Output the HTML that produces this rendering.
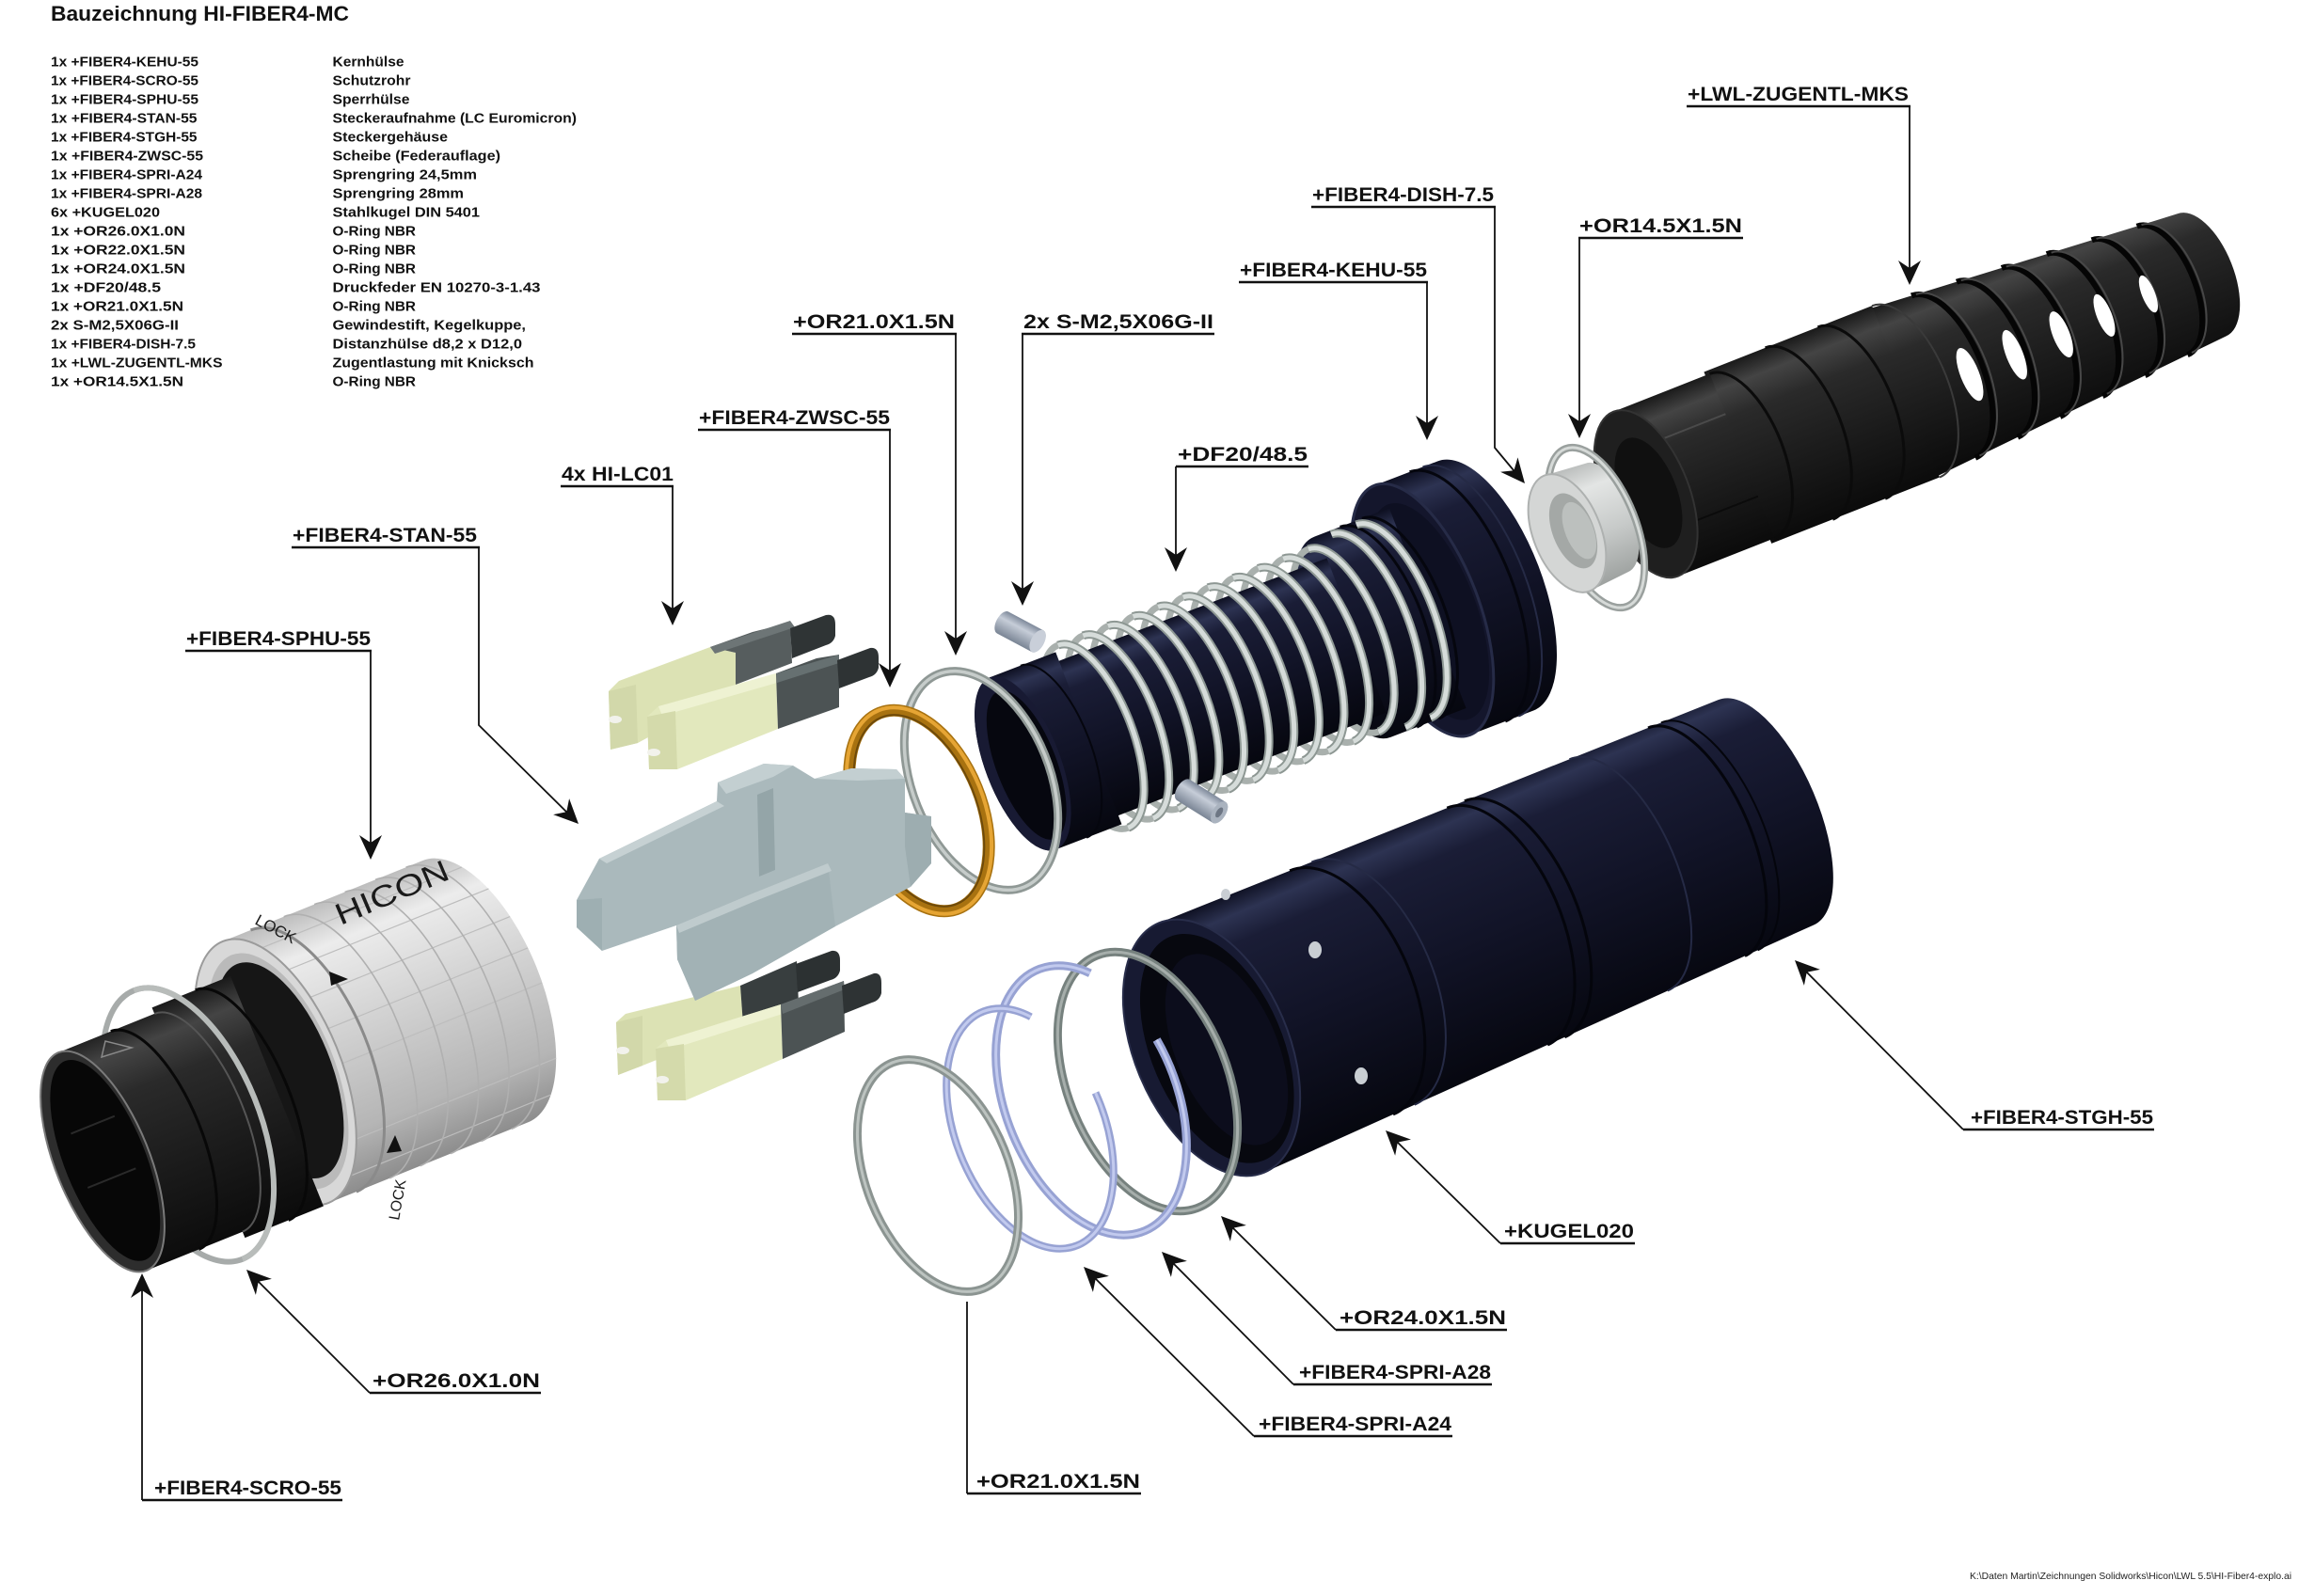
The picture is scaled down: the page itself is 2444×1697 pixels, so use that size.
<!DOCTYPE html>
<html lang="de">
<head>
<meta charset="utf-8">
<title>Bauzeichnung HI-FIBER4-MC</title>
<style>
html,body{margin:0;padding:0;background:#fff;width:2444px;height:1697px;overflow:hidden;}
svg{display:block;}
.lb{font-family:"Liberation Sans",sans-serif;font-weight:bold;font-size:21px;fill:#111;}
.pl{font-family:"Liberation Sans",sans-serif;font-weight:bold;font-size:14.5px;fill:#111;}
.ul{stroke:#111;stroke-width:2.6;fill:none;}
.ld{stroke:#111;stroke-width:1.8;fill:none;}
.ah{fill:#111;}
</style>
</head>
<body>
<svg xmlns="http://www.w3.org/2000/svg" width="2444" height="1697" viewBox="0 0 2444 1697">
<defs>
  <linearGradient id="gNavy" x1="0" y1="0" x2="0" y2="1">
    <stop offset="0" stop-color="#0e1022"/>
    <stop offset="0.08" stop-color="#2d3352"/>
    <stop offset="0.18" stop-color="#1a1d36"/>
    <stop offset="0.5" stop-color="#121428"/>
    <stop offset="1" stop-color="#06070f"/>
  </linearGradient>
  <linearGradient id="gBlack" x1="0" y1="0" x2="0" y2="1">
    <stop offset="0" stop-color="#1a1a1a"/>
    <stop offset="0.12" stop-color="#444444"/>
    <stop offset="0.28" stop-color="#2a2a2a"/>
    <stop offset="0.6" stop-color="#1c1c1c"/>
    <stop offset="1" stop-color="#0b0b0b"/>
  </linearGradient>
  <linearGradient id="gSilver" x1="0" y1="0" x2="0" y2="1">
    <stop offset="0" stop-color="#bdbdbd"/>
    <stop offset="0.15" stop-color="#ececec"/>
    <stop offset="0.45" stop-color="#d2d2d2"/>
    <stop offset="0.8" stop-color="#b5b5b5"/>
    <stop offset="1" stop-color="#8d8d8d"/>
  </linearGradient>
  <linearGradient id="gGray" x1="0" y1="0" x2="0" y2="1">
    <stop offset="0" stop-color="#b8bbba"/>
    <stop offset="0.22" stop-color="#e3e5e4"/>
    <stop offset="0.6" stop-color="#c7cac9"/>
    <stop offset="1" stop-color="#9da19f"/>
  </linearGradient>
  <linearGradient id="gPin" x1="0" y1="0" x2="0" y2="1">
    <stop offset="0" stop-color="#7e899a"/>
    <stop offset="0.35" stop-color="#c6cdd8"/>
    <stop offset="1" stop-color="#7a8595"/>
  </linearGradient>
</defs>
<rect x="0" y="0" width="2444" height="1697" fill="#ffffff"/>

<!-- ================= TITLE + PARTS LIST ================= -->
<text x="54" y="22" font-family="Liberation Sans, sans-serif" font-weight="bold" font-size="22" fill="#111" textLength="317" lengthAdjust="spacingAndGlyphs">Bauzeichnung HI-FIBER4-MC</text>

<g class="pl">
<text x="54" y="70.7" textLength="157" lengthAdjust="spacingAndGlyphs">1x +FIBER4-KEHU-55</text>
<text x="54" y="90.7" textLength="157" lengthAdjust="spacingAndGlyphs">1x +FIBER4-SCRO-55</text>
<text x="54" y="110.7" textLength="157" lengthAdjust="spacingAndGlyphs">1x +FIBER4-SPHU-55</text>
<text x="54" y="130.7" textLength="155.5" lengthAdjust="spacingAndGlyphs">1x +FIBER4-STAN-55</text>
<text x="54" y="150.7" textLength="155.5" lengthAdjust="spacingAndGlyphs">1x +FIBER4-STGH-55</text>
<text x="54" y="170.7" textLength="162" lengthAdjust="spacingAndGlyphs">1x +FIBER4-ZWSC-55</text>
<text x="54" y="190.7" textLength="161" lengthAdjust="spacingAndGlyphs">1x +FIBER4-SPRI-A24</text>
<text x="54" y="210.7" textLength="161" lengthAdjust="spacingAndGlyphs">1x +FIBER4-SPRI-A28</text>
<text x="54" y="230.7" textLength="116" lengthAdjust="spacingAndGlyphs">6x +KUGEL020</text>
<text x="54" y="250.7" textLength="143" lengthAdjust="spacingAndGlyphs">1x +OR26.0X1.0N</text>
<text x="54" y="270.7" textLength="143" lengthAdjust="spacingAndGlyphs">1x +OR22.0X1.5N</text>
<text x="54" y="290.7" textLength="143" lengthAdjust="spacingAndGlyphs">1x +OR24.0X1.5N</text>
<text x="54" y="310.7" textLength="117" lengthAdjust="spacingAndGlyphs">1x +DF20/48.5</text>
<text x="54" y="330.7" textLength="141" lengthAdjust="spacingAndGlyphs">1x +OR21.0X1.5N</text>
<text x="54" y="350.7" textLength="136" lengthAdjust="spacingAndGlyphs">2x S-M2,5X06G-II</text>
<text x="54" y="370.7" textLength="154" lengthAdjust="spacingAndGlyphs">1x +FIBER4-DISH-7.5</text>
<text x="54" y="390.7" textLength="182.5" lengthAdjust="spacingAndGlyphs">1x +LWL-ZUGENTL-MKS</text>
<text x="54" y="410.7" textLength="141" lengthAdjust="spacingAndGlyphs">1x +OR14.5X1.5N</text>

<text x="353.5" y="70.7" textLength="76" lengthAdjust="spacingAndGlyphs">Kernhülse</text>
<text x="353.5" y="90.7" textLength="83" lengthAdjust="spacingAndGlyphs">Schutzrohr</text>
<text x="353.5" y="110.7" textLength="82" lengthAdjust="spacingAndGlyphs">Sperrhülse</text>
<text x="353.5" y="130.7" textLength="259.5" lengthAdjust="spacingAndGlyphs">Steckeraufnahme (LC Euromicron)</text>
<text x="353.5" y="150.7" textLength="122.5" lengthAdjust="spacingAndGlyphs">Steckergehäuse</text>
<text x="353.5" y="170.7" textLength="178.5" lengthAdjust="spacingAndGlyphs">Scheibe (Federauflage)</text>
<text x="353.5" y="190.7" textLength="153.5" lengthAdjust="spacingAndGlyphs">Sprengring 24,5mm</text>
<text x="353.5" y="210.7" textLength="139.5" lengthAdjust="spacingAndGlyphs">Sprengring 28mm</text>
<text x="353.5" y="230.7" textLength="156.5" lengthAdjust="spacingAndGlyphs">Stahlkugel DIN 5401</text>
<text x="353.5" y="250.7" textLength="88.5" lengthAdjust="spacingAndGlyphs">O-Ring NBR</text>
<text x="353.5" y="270.7" textLength="88.5" lengthAdjust="spacingAndGlyphs">O-Ring NBR</text>
<text x="353.5" y="290.7" textLength="88.5" lengthAdjust="spacingAndGlyphs">O-Ring NBR</text>
<text x="353.5" y="310.7" textLength="221" lengthAdjust="spacingAndGlyphs">Druckfeder EN 10270-3-1.43</text>
<text x="353.5" y="330.7" textLength="88.5" lengthAdjust="spacingAndGlyphs">O-Ring NBR</text>
<text x="353.5" y="350.7" textLength="205.5" lengthAdjust="spacingAndGlyphs">Gewindestift, Kegelkuppe,</text>
<text x="353.5" y="370.7" textLength="201.5" lengthAdjust="spacingAndGlyphs">Distanzhülse d8,2 x D12,0</text>
<text x="353.5" y="390.7" textLength="214" lengthAdjust="spacingAndGlyphs">Zugentlastung mit Knicksch</text>
<text x="353.5" y="410.7" textLength="88.5" lengthAdjust="spacingAndGlyphs">O-Ring NBR</text>
</g>

<!-- ================= LWL STRAIN RELIEF ================= -->
<g transform="translate(1745,527) rotate(-21.5)">
  <path d="M300,-96 L640,-70 A34,70 0 0 1 640,70 L300,96 Z" fill="url(#gBlack)"/>
  <g fill="none">
    <path d="M345,-92.6 A43,92.6 0 0 1 345,92.6" stroke="#050505" stroke-width="6"/>
    <path d="M350,-92.2 A43,92.2 0 0 1 350,92.2" stroke="#474747" stroke-width="2"/>
    <path d="M395,-88.7 A41.5,88.7 0 0 1 395,88.7" stroke="#050505" stroke-width="6"/>
    <path d="M400,-88.4 A41.3,88.4 0 0 1 400,88.4" stroke="#474747" stroke-width="2"/>
    <path d="M445,-84.9 A40,84.9 0 0 1 445,84.9" stroke="#050505" stroke-width="6"/>
    <path d="M450,-84.5 A39.8,84.5 0 0 1 450,84.5" stroke="#474747" stroke-width="2"/>
    <path d="M495,-81.1 A38.5,81.1 0 0 1 495,81.1" stroke="#050505" stroke-width="6"/>
    <path d="M500,-80.7 A38.3,80.7 0 0 1 500,80.7" stroke="#474747" stroke-width="2"/>
    <path d="M545,-77.3 A37,77.3 0 0 1 545,77.3" stroke="#050505" stroke-width="6"/>
    <path d="M550,-76.9 A36.8,76.9 0 0 1 550,76.9" stroke="#474747" stroke-width="2"/>
    <path d="M595,-73.4 A35.5,73.4 0 0 1 595,73.4" stroke="#050505" stroke-width="6"/>
    <path d="M600,-73 A35.3,73 0 0 1 600,73" stroke="#474747" stroke-width="2"/>
  </g>
  <g fill="#ffffff">
    <ellipse cx="372" cy="8" rx="10" ry="30"/>
    <ellipse cx="424" cy="6" rx="9" ry="28"/>
    <ellipse cx="478" cy="4" rx="9" ry="26"/>
    <ellipse cx="528" cy="2" rx="8" ry="24"/>
    <ellipse cx="580" cy="-2" rx="7" ry="21"/>
  </g>
  <path d="M110,-98 L302,-98 L302,98 L110,98 Z" fill="url(#gBlack)"/>
  <path d="M180,-98 A46,98 0 0 1 180,98" stroke="#0b0b0b" stroke-width="3" fill="none"/>
  <path d="M240,-98 A46,98 0 0 1 240,98" stroke="#0b0b0b" stroke-width="3" fill="none"/>
  <path d="M302,-98 A46,98 0 0 1 302,98" stroke="#3a3a3a" stroke-width="2" fill="none"/>
  <path d="M5,-94 L115,-94 L115,94 L5,94 A46,94 0 0 1 5,-94 Z" fill="url(#gBlack)"/>
  <line x1="5" y1="-48" x2="115" y2="-48" stroke="#4a4a4a" stroke-width="2"/>
  <line x1="5" y1="46" x2="115" y2="46" stroke="#0b0b0b" stroke-width="2"/>
  <path d="M115,-94 A44,94 0 0 1 115,94" stroke="#0b0b0b" stroke-width="3" fill="none"/>
  <ellipse cx="5" cy="0" rx="46" ry="94" fill="#1f1f1f" stroke="#333" stroke-width="2"/>
  <ellipse cx="8" cy="0" rx="30" ry="62" fill="#101010"/>
</g>

<!-- ================= DISH + OR14.5 ================= -->
<g transform="translate(1666,567) rotate(-21.5)">
  <path d="M0,-66 L45,-62 A28,62 0 0 1 45,62 L0,66 Z" fill="url(#gGray)"/>
</g>
<g transform="translate(1697,561) rotate(-21.5)">
  <ellipse cx="0" cy="0" rx="42" ry="90" fill="none" stroke="#9aa09e" stroke-width="8"/>
  <ellipse cx="0" cy="0" rx="42" ry="90" fill="none" stroke="#d6dad8" stroke-width="3"/>
</g>
<g transform="translate(1666,567) rotate(-21.5)">
  <ellipse cx="0" cy="0" rx="36" ry="66" fill="#d4d6d5" stroke="#aeb1b0" stroke-width="2"/>
  <ellipse cx="7" cy="0" rx="22" ry="42" fill="#a4a8a6"/>
  <ellipse cx="13" cy="2" rx="15" ry="32" fill="#bcc0be"/>
</g>

<!-- ================= KEHU + SPRING ================= -->
<g transform="translate(1092,810) rotate(-21)">
  <path d="M450,-142 L522,-142 A60,142 0 0 1 522,142 L450,142 Z" fill="url(#gNavy)"/>
  <path d="M490,-142 A60,142 0 0 1 490,142" stroke="#05060e" stroke-width="3" fill="none"/>
  <path d="M505,-142 A60,142 0 0 1 505,142" stroke="#252a45" stroke-width="2" fill="none"/>
  <ellipse cx="450" cy="0" rx="60" ry="142" fill="#14162c" stroke="#262b47" stroke-width="3"/>
  <ellipse cx="456" cy="4" rx="50" ry="122" fill="#0e1022"/>
  <path d="M370,-114 L456,-114 L456,114 L370,114 A48,114 0 0 1 370,-114 Z" fill="url(#gNavy)"/>
  <path d="M400,-114 A48,114 0 0 1 400,114" stroke="#05060e" stroke-width="3" fill="none"/>
  <path d="M425,-114 A48,114 0 0 1 425,114" stroke="#05060e" stroke-width="3" fill="none"/>
  <g fill="none" stroke="#a9b0ad" stroke-width="7">
    <path d="M75,-104 A42,104 0 0 0 75,104"/>
    <path d="M103.5,-104 A42,104 0 0 0 103.5,104"/>
    <path d="M132,-104 A42,104 0 0 0 132,104"/>
    <path d="M160.5,-104 A42,104 0 0 0 160.5,104"/>
    <path d="M189,-104 A42,104 0 0 0 189,104"/>
    <path d="M217.5,-104 A42,104 0 0 0 217.5,104"/>
    <path d="M246,-104 A42,104 0 0 0 246,104"/>
    <path d="M274.5,-104 A42,104 0 0 0 274.5,104"/>
    <path d="M303,-104 A42,104 0 0 0 303,104"/>
    <path d="M331.5,-104 A42,104 0 0 0 331.5,104"/>
    <path d="M360,-104 A42,104 0 0 0 360,104"/>
  </g>
  <path d="M40,-88 L375,-88 L375,88 L40,88 Z" fill="url(#gNavy)"/>
  <g fill="none" stroke="#8d9793" stroke-width="9">
    <path d="M75,-104 A42,104 0 0 1 75,104"/>
    <path d="M103.5,-104 A42,104 0 0 1 103.5,104"/>
    <path d="M132,-104 A42,104 0 0 1 132,104"/>
    <path d="M160.5,-104 A42,104 0 0 1 160.5,104"/>
    <path d="M189,-104 A42,104 0 0 1 189,104"/>
    <path d="M217.5,-104 A42,104 0 0 1 217.5,104"/>
    <path d="M246,-104 A42,104 0 0 1 246,104"/>
    <path d="M274.5,-104 A42,104 0 0 1 274.5,104"/>
    <path d="M303,-104 A42,104 0 0 1 303,104"/>
    <path d="M331.5,-104 A42,104 0 0 1 331.5,104"/>
    <path d="M360,-104 A42,104 0 0 1 360,104"/>
    <path d="M388.5,-110 A44,110 0 0 1 388.5,110"/>
    <path d="M417,-110 A44,110 0 0 1 417,110"/>
  </g>
  <g fill="none" stroke="#d6dcda" stroke-width="5">
    <path d="M75,-104 A42,104 0 0 1 75,104"/>
    <path d="M103.5,-104 A42,104 0 0 1 103.5,104"/>
    <path d="M132,-104 A42,104 0 0 1 132,104"/>
    <path d="M160.5,-104 A42,104 0 0 1 160.5,104"/>
    <path d="M189,-104 A42,104 0 0 1 189,104"/>
    <path d="M217.5,-104 A42,104 0 0 1 217.5,104"/>
    <path d="M246,-104 A42,104 0 0 1 246,104"/>
    <path d="M274.5,-104 A42,104 0 0 1 274.5,104"/>
    <path d="M303,-104 A42,104 0 0 1 303,104"/>
    <path d="M331.5,-104 A42,104 0 0 1 331.5,104"/>
    <path d="M360,-104 A42,104 0 0 1 360,104"/>
    <path d="M388.5,-110 A44,110 0 0 1 388.5,110"/>
    <path d="M417,-110 A44,110 0 0 1 417,110"/>
  </g>
  <path d="M-5,-98 L70,-98 L70,98 L-5,98 A40,98 0 0 1 -5,-98 Z" fill="url(#gNavy)"/>
  <path d="M30,-98 A40,98 0 0 1 30,98" stroke="#05060e" stroke-width="2" fill="none"/>
  <ellipse cx="-5" cy="0" rx="40" ry="98" fill="#181a33"/>
  <ellipse cx="-2" cy="3" rx="32" ry="84" fill="#06070f"/>
</g>

<!-- pins -->
<g transform="translate(1066,662) rotate(28)">
  <path d="M0,-13 L42,-13 A7,13 0 0 1 42,13 L0,13 A7,13 0 0 1 0,-13 Z" fill="url(#gPin)"/>
  <ellipse cx="42" cy="0" rx="7" ry="13" fill="#c9cfd9"/>
</g>
<g transform="translate(1258,840) rotate(32)">
  <path d="M0,-13 L45,-13 A7,13 0 0 1 45,13 L0,13 A7,13 0 0 1 0,-13 Z" fill="url(#gPin)"/>
  <ellipse cx="45" cy="0" rx="7" ry="13" fill="#aab3bf"/>
  <ellipse cx="45" cy="0" rx="3" ry="6" fill="#6d7684"/>
</g>

<!-- ================= STGH HOUSING ================= -->
<g transform="translate(1288,1114) rotate(-23)">
  <path d="M0,-144 L640,-130 A55,130 0 0 1 640,130 L0,144 Z" fill="url(#gNavy)"/>
  <g fill="none">
    <path d="M150,-140.7 A75.7,140.7 0 0 1 150,140.7" stroke="#04050c" stroke-width="3"/>
    <path d="M175,-140.2 A74.6,140.2 0 0 1 175,140.2" stroke="#252a45" stroke-width="2"/>
    <path d="M330,-136.8 A68,136.8 0 0 1 330,136.8" stroke="#04050c" stroke-width="3"/>
    <path d="M350,-136.3 A67.2,136.3 0 0 1 350,136.3" stroke="#04050c" stroke-width="3"/>
    <path d="M470,-133.7 A62.2,133.7 0 0 1 470,133.7" stroke="#252a45" stroke-width="2"/>
    <path d="M560,-131.7 A58.4,131.7 0 0 1 560,131.7" stroke="#04050c" stroke-width="3"/>
    <path d="M575,-131.4 A58,131.4 0 0 1 575,131.4" stroke="#04050c" stroke-width="2"/>
  </g>
  <ellipse cx="0" cy="0" rx="82" ry="144" fill="#171a32" stroke="#282d4a" stroke-width="2"/>
  <ellipse cx="5" cy="3" rx="70" ry="129" fill="#07080f"/>
  <ellipse cx="14" cy="8" rx="54" ry="108" fill="#0c0d1c"/>
</g>
<g fill="#c9ced3">
  <ellipse cx="1303" cy="951" rx="5" ry="6"/>
  <ellipse cx="1398" cy="1010" rx="7" ry="9"/>
  <ellipse cx="1447" cy="1144" rx="7" ry="9"/>
</g>

<!-- ================= BOTTOM RINGS ================= -->
<g transform="translate(1220,1150) rotate(-22)">
  <ellipse cx="0" cy="0" rx="85" ry="144.5" fill="none" stroke="#76817e" stroke-width="9"/>
  <ellipse cx="0" cy="0" rx="85" ry="144.5" fill="none" stroke="#a6aeab" stroke-width="3"/>
</g>
<g transform="translate(1160,1170) rotate(-22)">
  <path d="M88.7,-33.7 A91,150 0 1 1 49.6,-125.8" fill="none" stroke="#97a2d3" stroke-width="9"/>
  <path d="M88.7,-33.7 A91,150 0 1 1 49.6,-125.8" fill="none" stroke="#c2caee" stroke-width="3"/>
</g>
<g transform="translate(1095,1200) rotate(-22)">
  <path d="M78.8,-9.3 A79,134 0 1 1 45.3,-109.8" fill="none" stroke="#97a2d3" stroke-width="8"/>
  <path d="M78.8,-9.3 A79,134 0 1 1 45.3,-109.8" fill="none" stroke="#c2caee" stroke-width="3"/>
</g>
<g transform="translate(997,1250) rotate(-22)">
  <ellipse cx="0" cy="0" rx="76" ry="129.5" fill="none" stroke="#8b9491" stroke-width="9"/>
  <ellipse cx="0" cy="0" rx="76" ry="129.5" fill="none" stroke="#bcc3c0" stroke-width="3"/>
</g>

<!-- ================= OR21 top ring + gold ring ================= -->
<g transform="translate(1043,830) rotate(-22)">
  <ellipse cx="0" cy="0" rx="73" ry="122" fill="none" stroke="#8f9895" stroke-width="9"/>
  <ellipse cx="0" cy="0" rx="73" ry="122" fill="none" stroke="#c6ccca" stroke-width="3.5"/>
</g>
<g transform="translate(977,862) rotate(-22)">
  <ellipse cx="0" cy="0" rx="66" ry="112" fill="none" stroke="#a87210" stroke-width="13"/>
  <ellipse cx="0" cy="0" rx="69" ry="115" fill="none" stroke="#e6a534" stroke-width="4"/>
  <ellipse cx="0" cy="0" rx="61" ry="107" fill="none" stroke="#6e4a0a" stroke-width="2"/>
</g>

<!-- ================= LC lower pair ================= -->
<g>
  <path d="M655,1087 L665,1078 L787,1048 L790,1090 L683,1133 L657,1143 Z" fill="#dce2b4"/>
  <path d="M787,1048 L847,1022 L849,1068 L790,1090 Z" fill="#383e3f"/>
  <path d="M846,1025 L884,1011 Q893,1010 893,1021 L893,1032 Q891,1040 883,1042 L848,1055 Z" fill="#2c3132"/>
  <path d="M655,1087 L683,1080 L683,1133 L657,1143 Z" fill="#d2d8aa"/>
  <ellipse cx="662" cy="1117" rx="7" ry="4" fill="#f2f2ec"/>
  <path d="M697,1115 L708,1106 L830,1068 L832,1126 L729,1170 L699,1170 Z" fill="#e2e8bd"/>
  <path d="M708,1106 L830,1068 L832,1078 L712,1116 Z" fill="#eef2d2"/>
  <path d="M830,1068 L897,1043 L898,1097 L832,1126 Z" fill="#4c5354"/>
  <path d="M830,1068 L897,1043 L898,1052 L832,1078 Z" fill="#656d6e"/>
  <path d="M895,1048 L929,1035 Q937,1034 937,1045 L937,1056 Q935,1064 927,1066 L897,1078 Z" fill="#2e3334"/>
  <path d="M697,1115 L727,1110 L729,1170 L699,1170 Z" fill="#d4daab"/>
  <ellipse cx="704" cy="1148" rx="7" ry="4" fill="#f2f2ec"/>
</g>

<!-- ================= STAN ================= -->
<g>
  <path d="M613,957 L637,913 L762,852 L763,832 L812,812 L843,814 L866,828 L905,817 L953,818 L962,828 L962,864 L990,868 L990,918 L968,943 L888,985 L800,1035 L739,1064 L720,1020 L719,984 L640,1011 L613,986 Z" fill="#aab9bc"/>
  <path d="M637,913 L762,852 L770,857 L645,918 Z" fill="#c6d1d3"/>
  <path d="M763,832 L812,812 L843,814 L822,826 L772,844 Z" fill="#c3cfd1"/>
  <path d="M866,828 L905,817 L953,818 L962,828 L912,830 Z" fill="#c3cfd1"/>
  <path d="M805,845 L822,838 L824,925 L807,932 Z" fill="#94a5a8"/>
  <path d="M962,864 L990,868 L990,918 L968,943 L962,900 Z" fill="#9dadb0"/>
  <path d="M719,984 L800,950 L880,918 L888,985 L800,1035 L739,1064 L720,1020 Z" fill="#a2b2b5"/>
  <path d="M719,984 L800,950 L880,918 L884,926 L803,958 L722,992 Z" fill="#bfcbcd"/>
  <path d="M613,957 L640,955 L640,1011 L613,986 Z" fill="#9eafb2"/>
</g>

<!-- ================= LC upper pair ================= -->
<g>
  <path d="M647,735 L658,724 L755,688 L782,694 L782,745 L700,778 L678,790 L649,797 Z" fill="#dce2b4"/>
  <path d="M755,688 L800,672 L840,662 L842,705 L782,728 L782,694 Z" fill="#565d5e"/>
  <path d="M755,688 L840,660 L845,667 L760,695 Z" fill="#6d7576"/>
  <path d="M840,668 L878,654 Q888,652 888,664 L888,676 Q886,684 878,686 L842,700 Z" fill="#2f3435"/>
  <path d="M647,735 L676,728 L678,790 L649,797 Z" fill="#d2d8aa"/>
  <ellipse cx="654" cy="765" rx="7" ry="4" fill="#f2f2ec"/>
  <path d="M688,762 L700,751 L825,716 L827,775 L720,818 L690,818 Z" fill="#e2e8bd"/>
  <path d="M700,751 L825,716 L826,726 L704,761 Z" fill="#eef2d2"/>
  <path d="M825,716 L868,700 L892,696 L892,752 L827,775 Z" fill="#4c5354"/>
  <path d="M825,716 L892,696 L892,705 L826,726 Z" fill="#667071"/>
  <path d="M890,702 L925,689 Q934,688 934,699 L934,710 Q932,718 924,720 L892,732 Z" fill="#2e3334"/>
  <path d="M688,762 L718,756 L720,818 L690,818 Z" fill="#d4daab"/>
  <ellipse cx="695" cy="800" rx="7" ry="4" fill="#f2f2ec"/>
</g>

<!-- ================= SPHU sleeve ================= -->
<g transform="translate(293,1140) rotate(-22)">
  <path d="M0,-150 L229,-150 A70,150 0 0 1 229,150 L0,150 Z" fill="url(#gSilver)"/>
  <g fill="none" stroke="#bdbdbd" stroke-width="1.2">
    <path d="M32,-128 L265,-128"/>
    <path d="M32,-96 L283,-96"/>
    <path d="M32,-60 L293,-60"/>
    <path d="M32,-22 L298,-22"/>
    <path d="M32,18 L298,18"/>
    <path d="M32,58 L293,58"/>
    <path d="M32,98 L282,98"/>
    <path d="M32,132 L262,132"/>
  </g>
  <path d="M32,-150 A70,150 0 0 1 32,150" fill="none" stroke="#8a8a8a" stroke-width="3"/>
  <g fill="none" stroke="#b0b0b0" stroke-width="1.6">
    <path d="M70,-150 A70,150 0 0 1 70,150"/>
    <path d="M105,-150 A70,150 0 0 1 105,150"/>
    <path d="M140,-150 A70,150 0 0 1 140,150"/>
    <path d="M175,-150 A70,150 0 0 1 175,150"/>
    <path d="M210,-150 A70,150 0 0 1 210,150"/>
  </g>
  <ellipse cx="0" cy="0" rx="70" ry="150" fill="#d8d8d8" stroke="#9b9b9b" stroke-width="2"/>
  <ellipse cx="3" cy="0" rx="60" ry="133" fill="#bababa"/>
  <ellipse cx="5" cy="0" rx="54" ry="122" fill="#161616"/>
</g>
<text transform="translate(362,984) rotate(-23)" font-family="Liberation Sans, sans-serif" font-size="32" fill="#1a1a1a" textLength="128" lengthAdjust="spacingAndGlyphs">HICON</text>
<text transform="translate(270,982) rotate(28)" font-family="Liberation Sans, sans-serif" font-size="17" fill="#1a1a1a">LOCK</text>
<text transform="translate(424,1298) rotate(-80)" font-family="Liberation Sans, sans-serif" font-size="16" fill="#1a1a1a">LOCK</text>
<path d="M350,1033 L370,1041 L352,1048 Z" fill="#111"/>
<path d="M411,1226 L427,1224 L420,1207 Z" fill="#111"/>

<!-- ================= OR26 ring (back) ================= -->
<g transform="translate(200,1196) rotate(-22)">
  <ellipse cx="0" cy="0" rx="76" ry="154" fill="none" stroke="#a7abaa" stroke-width="6"/>
</g>

<!-- ================= SCRO ================= -->
<g transform="translate(109,1235) rotate(-22)">
  <path d="M0,-125 L110,-125 L110,-132 L200,-132 L200,132 L110,132 L110,125 L0,125 Z" fill="url(#gBlack)"/>
  <path d="M110,-125 A50,125 0 0 1 110,125" stroke="#555" stroke-width="2" fill="none"/>
  <path d="M60,-125 A50,125 0 0 1 60,125" stroke="#080808" stroke-width="3" fill="none"/>
  <path d="M160,-132 A52,132 0 0 1 160,132" stroke="#080808" stroke-width="3" fill="none"/>
  <ellipse cx="0" cy="0" rx="50" ry="125" fill="#2d2d2d" stroke="#7a7a7a" stroke-width="2"/>
  <ellipse cx="3" cy="0" rx="43" ry="114" fill="#070707"/>
  <line x1="-20" y1="-40" x2="30" y2="-40" stroke="#2a2a2a" stroke-width="2"/>
  <line x1="-25" y1="20" x2="30" y2="20" stroke="#2a2a2a" stroke-width="2"/>
</g>
<path d="M108,1124 L140,1114 L112,1107 Z" fill="none" stroke="#8a8a8a" stroke-width="1.5"/>

<g transform="translate(200,1196) rotate(-22)">
  <path d="M0,-154 A76,154 0 0 1 0,154" fill="none" stroke="#b8bcba" stroke-width="6"/>
</g>

<!-- ================= LEADERS / LABELS ================= -->
<g>
  <text class="lb" x="1794" y="107" textLength="235" lengthAdjust="spacingAndGlyphs">+LWL-ZUGENTL-MKS</text>
  <path class="ul" d="M1793,113 L2031,113"/>
  <path class="ld" d="M2030,113 V290"/>
  <path class="ah" d="M0,0 L-26,-12 L-18,0 L-26,12 Z" transform="translate(2030,303) rotate(90)"/>

  <text class="lb" x="1395" y="214" textLength="193" lengthAdjust="spacingAndGlyphs">+FIBER4-DISH-7.5</text>
  <path class="ul" d="M1394,220 L1590,220"/>
  <path class="ld" d="M1589,220 V476 L1614,506"/>
  <path class="ah" d="M0,0 L-26,-12 L-18,0 L-26,12 Z" transform="translate(1621,514) rotate(50)"/>

  <text class="lb" x="1679" y="247" textLength="173" lengthAdjust="spacingAndGlyphs">+OR14.5X1.5N</text>
  <path class="ul" d="M1678,253 L1853,253"/>
  <path class="ld" d="M1679,253 V455"/>
  <path class="ah" d="M0,0 L-26,-12 L-18,0 L-26,12 Z" transform="translate(1679,466) rotate(90)"/>

  <text class="lb" x="1318" y="294" textLength="199" lengthAdjust="spacingAndGlyphs">+FIBER4-KEHU-55</text>
  <path class="ul" d="M1317,300 L1518,300"/>
  <path class="ld" d="M1517,300 V455"/>
  <path class="ah" d="M0,0 L-26,-12 L-18,0 L-26,12 Z" transform="translate(1517,468) rotate(90)"/>

  <text class="lb" x="843" y="349" textLength="172" lengthAdjust="spacingAndGlyphs">+OR21.0X1.5N</text>
  <path class="ul" d="M842,355 L1017,355"/>
  <path class="ld" d="M1016,355 V685"/>
  <path class="ah" d="M0,0 L-26,-12 L-18,0 L-26,12 Z" transform="translate(1016,697) rotate(90)"/>

  <text class="lb" x="1088" y="349" textLength="202" lengthAdjust="spacingAndGlyphs">2x S-M2,5X06G-II</text>
  <path class="ul" d="M1086,355 L1291,355"/>
  <path class="ld" d="M1087,355 V630"/>
  <path class="ah" d="M0,0 L-26,-12 L-18,0 L-26,12 Z" transform="translate(1087,644) rotate(90)"/>

  <text class="lb" x="743" y="451" textLength="203" lengthAdjust="spacingAndGlyphs">+FIBER4-ZWSC-55</text>
  <path class="ul" d="M742,457 L947,457"/>
  <path class="ld" d="M946,457 V718"/>
  <path class="ah" d="M0,0 L-26,-12 L-18,0 L-26,12 Z" transform="translate(946,731) rotate(90)"/>

  <text class="lb" x="1252" y="490" textLength="138" lengthAdjust="spacingAndGlyphs">+DF20/48.5</text>
  <path class="ul" d="M1250,496 L1391,496"/>
  <path class="ld" d="M1250,496 V595"/>
  <path class="ah" d="M0,0 L-26,-12 L-18,0 L-26,12 Z" transform="translate(1250,608) rotate(90)"/>

  <text class="lb" x="597" y="511" textLength="119" lengthAdjust="spacingAndGlyphs">4x HI-LC01</text>
  <path class="ul" d="M596,517 L716,517"/>
  <path class="ld" d="M715,517 V652"/>
  <path class="ah" d="M0,0 L-26,-12 L-18,0 L-26,12 Z" transform="translate(715,665) rotate(90)"/>

  <text class="lb" x="311" y="576" textLength="196" lengthAdjust="spacingAndGlyphs">+FIBER4-STAN-55</text>
  <path class="ul" d="M310,582 L510,582"/>
  <path class="ld" d="M509,582 V771 L607,868"/>
  <path class="ah" d="M0,0 L-26,-12 L-18,0 L-26,12 Z" transform="translate(615,876) rotate(45)"/>

  <text class="lb" x="198" y="686" textLength="196" lengthAdjust="spacingAndGlyphs">+FIBER4-SPHU-55</text>
  <path class="ul" d="M197,692 L395,692"/>
  <path class="ld" d="M394,692 V900"/>
  <path class="ah" d="M0,0 L-26,-12 L-18,0 L-26,12 Z" transform="translate(394,914) rotate(90)"/>

  <text class="lb" x="2095" y="1195" textLength="194" lengthAdjust="spacingAndGlyphs">+FIBER4-STGH-55</text>
  <path class="ul" d="M2087,1201 L2290,1201"/>
  <path class="ld" d="M2087,1201 L1916,1029"/>
  <path class="ah" d="M0,0 L-26,-12 L-18,0 L-26,12 Z" transform="translate(1908,1021) rotate(-135)"/>

  <text class="lb" x="1599" y="1316" textLength="138" lengthAdjust="spacingAndGlyphs">+KUGEL020</text>
  <path class="ul" d="M1595,1322 L1738,1322"/>
  <path class="ld" d="M1595,1322 L1481,1210"/>
  <path class="ah" d="M0,0 L-26,-12 L-18,0 L-26,12 Z" transform="translate(1473,1202) rotate(-135.5)"/>

  <text class="lb" x="1424" y="1408" textLength="177" lengthAdjust="spacingAndGlyphs">+OR24.0X1.5N</text>
  <path class="ul" d="M1420,1414 L1602,1414"/>
  <path class="ld" d="M1420,1414 L1306,1301"/>
  <path class="ah" d="M0,0 L-26,-12 L-18,0 L-26,12 Z" transform="translate(1298,1293) rotate(-135)"/>

  <text class="lb" x="1381" y="1466" textLength="204" lengthAdjust="spacingAndGlyphs">+FIBER4-SPRI-A28</text>
  <path class="ul" d="M1375,1472 L1586,1472"/>
  <path class="ld" d="M1375,1472 L1243,1339"/>
  <path class="ah" d="M0,0 L-26,-12 L-18,0 L-26,12 Z" transform="translate(1235,1331) rotate(-135)"/>

  <text class="lb" x="1338" y="1521" textLength="205" lengthAdjust="spacingAndGlyphs">+FIBER4-SPRI-A24</text>
  <path class="ul" d="M1333,1527 L1544,1527"/>
  <path class="ld" d="M1333,1527 L1160,1355"/>
  <path class="ah" d="M0,0 L-26,-12 L-18,0 L-26,12 Z" transform="translate(1152,1347) rotate(-135)"/>

  <text class="lb" x="1038" y="1582" textLength="174" lengthAdjust="spacingAndGlyphs">+OR21.0X1.5N</text>
  <path class="ul" d="M1028,1588 L1213,1588"/>
  <path class="ld" d="M1028,1588 V1384"/>

  <text class="lb" x="396" y="1475" textLength="178" lengthAdjust="spacingAndGlyphs">+OR26.0X1.0N</text>
  <path class="ul" d="M393,1481 L575,1481"/>
  <path class="ld" d="M393,1481 L270,1358"/>
  <path class="ah" d="M0,0 L-26,-12 L-18,0 L-26,12 Z" transform="translate(262,1350) rotate(-135)"/>

  <text class="lb" x="164" y="1589" textLength="199" lengthAdjust="spacingAndGlyphs">+FIBER4-SCRO-55</text>
  <path class="ul" d="M151,1595 L364,1595"/>
  <path class="ld" d="M151,1595 V1368"/>
  <path class="ah" d="M0,0 L-26,-12 L-18,0 L-26,12 Z" transform="translate(151,1354) rotate(-90)"/>
</g>

<text x="2094" y="1679" font-family="Liberation Sans, sans-serif" font-size="10.5" fill="#222" textLength="342" lengthAdjust="spacingAndGlyphs">K:\Daten Martin\Zeichnungen Solidworks\Hicon\LWL 5.5\HI-Fiber4-explo.ai</text>
</svg>
</body>
</html>
